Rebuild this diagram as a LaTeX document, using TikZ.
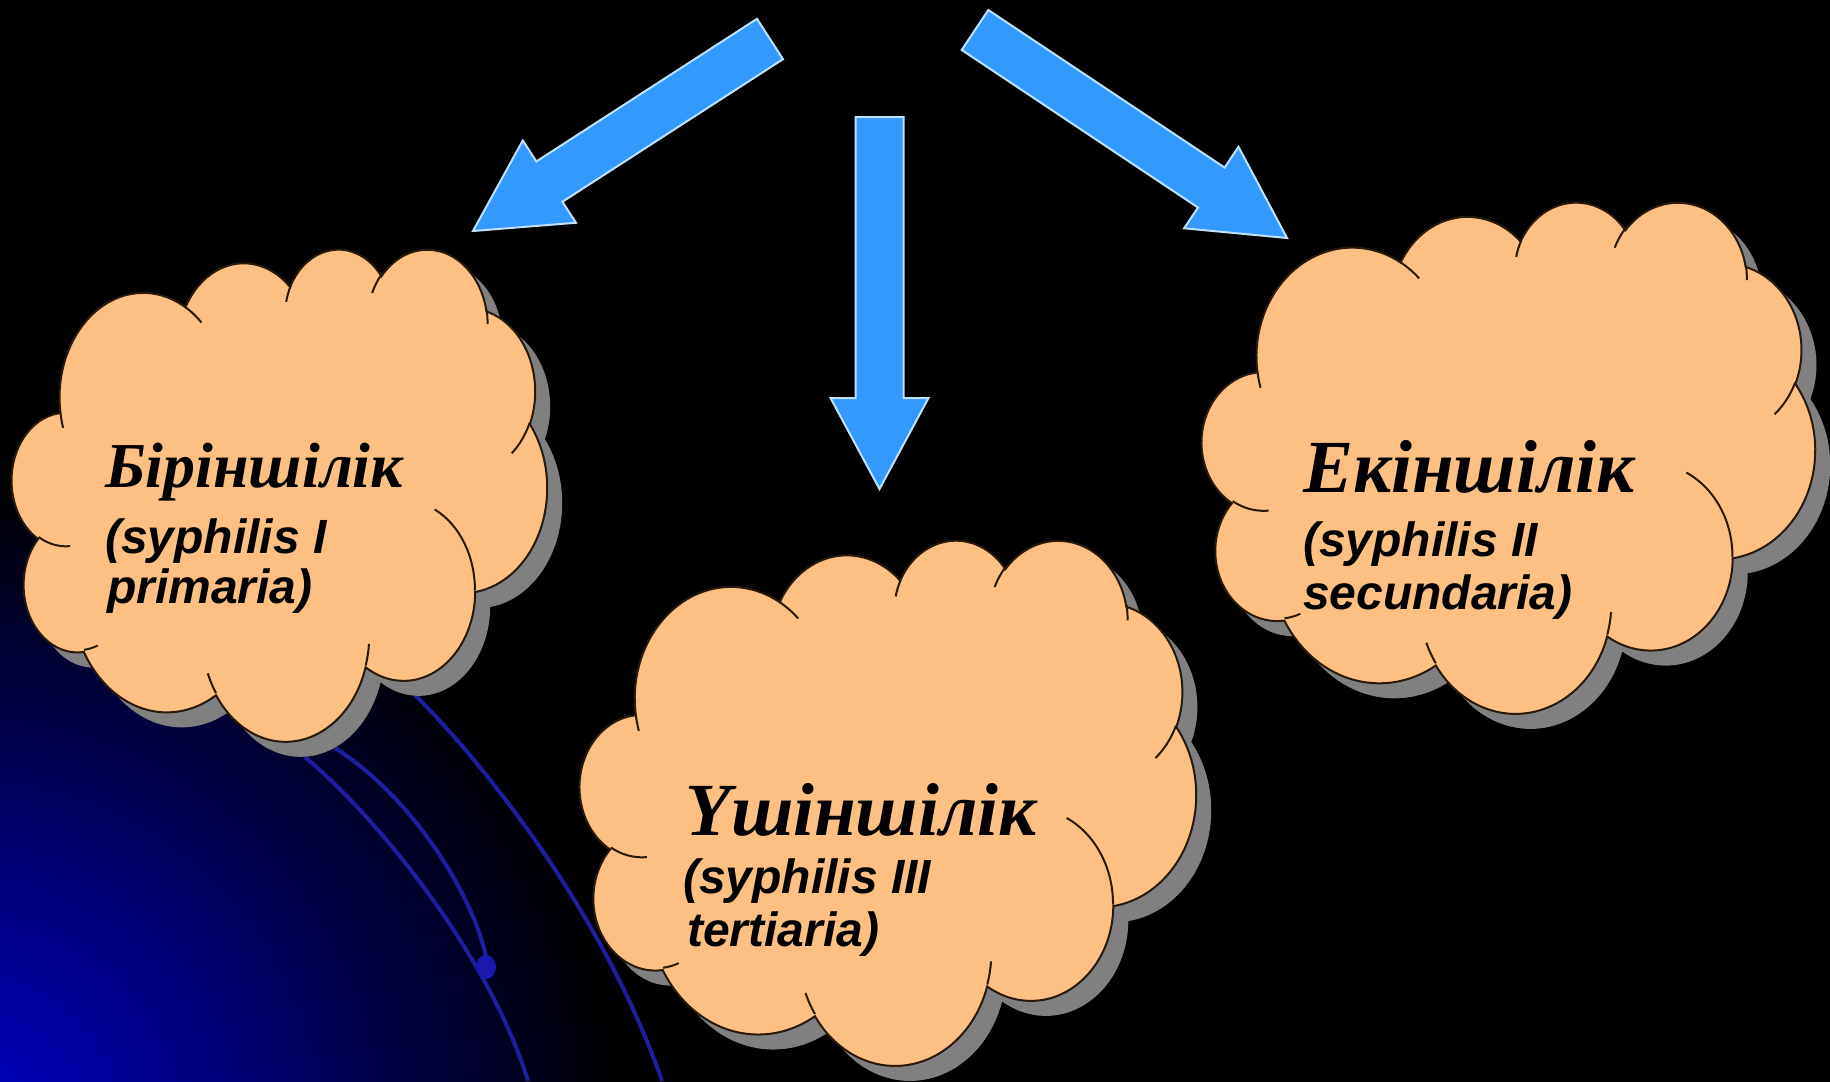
\documentclass[tikz,border=0pt]{standalone}
\usepackage{fontspec}
\setmainfont{Liberation Serif}
\newfontfamily\sansfam{Liberation Sans}
\definecolor{arrowblue}{RGB}{51,153,255}
\definecolor{arrowedge}{RGB}{190,225,255}
\definecolor{cloudfill}{RGB}{253,191,130}
\definecolor{cloudedge}{RGB}{40,25,10}
\definecolor{shadowgray}{RGB}{128,128,128}
\definecolor{orbit}{RGB}{30,30,160}
\definecolor{glow}{RGB}{0,0,205}

\newcommand\cloudoutline{(39.00,143.70)
 arc[start angle=-187.75,end angle=-59.65,x radius=67.53,y radius=91.90]
 arc[start angle=-152.02,end angle=-45.44,x radius=53.33,y radius=72.67]
 arc[start angle=-153.49,end angle=-37.33,x radius=43.65,y radius=59.45]
 arc[start angle=-139.69,end angle=-10.21,x radius=48.57,y radius=65.95]
 arc[start angle=-74.77,end angle=23.21,x radius=53.33,y radius=72.73]
 arc[start angle=-37.53,end angle=81.86,x radius=67.75,y radius=92.20]
 arc[start angle=0.46,end angle=121.97,x radius=57.85,y radius=78.67]
 arc[start angle=16.85,end angle=146.23,x radius=67.52,y radius=92.15]
 arc[start angle=58.98,end angle=150.20,x radius=77.20,y radius=105.43]
 arc[start angle=-276.69,end angle=-136.89,x radius=43.60,y radius=59.18]
 arc[start angle=-239.64,end angle=-95.89,x radius=43.45,y radius=59.45]
 -- cycle}
\newcommand\cloudinner{(46.93,261.77) arc[start angle=85.55,end angle=120.36,x radius=43.45,y radius=59.45]
 (69.28,348.99) arc[start angle=68.23,end angle=83.31,x radius=43.60,y radius=59.18]
 (164.78,390.90) arc[start angle=146.23,end angle=158.48,x radius=67.52,y radius=92.15]
 (288.27,347.51) arc[start angle=4.74,end angle=16.85,x radius=67.52,y radius=92.15]
 (341.29,229.54) arc[start angle=-64.03,end angle=0.46,x radius=57.85,y radius=78.67]
 (417.98,153.54) arc[start angle=23.21,end angle=49.64,x radius=53.33,y radius=72.73]
 (383.24,54.26) arc[start angle=-10.21,end angle=0.82,x radius=48.57,y radius=65.95]
 (290.78,39.52) arc[start angle=-156.29,end angle=-139.69,x radius=48.57,y radius=65.95]
 (221.41,47.20) arc[start angle=-167.73,end angle=-153.49,x radius=43.65,y radius=59.45]
 (140.00,51.92) arc[start angle=-59.65,end angle=-45.74,x radius=67.53,y radius=91.90]
 (41.27,157.89) arc[start angle=163.20,end angle=172.25,x radius=67.53,y radius=91.90]}

\tikzset{
 arrowsty/.style={fill=arrowblue, draw=arrowedge, line width=2pt, line join=miter},
 cloudsty/.style={fill=cloudfill, draw=cloudedge, line width=2pt},
 cloudline/.style={draw=cloudedge, line width=2pt},
 shadowsty/.style={fill=shadowgray},
 orbitsty/.style={draw=orbit, line width=4pt},
 bigtitle/.style={inner sep=0pt, anchor=base west, text=black, font=\bfseries\itshape\fontsize{75}{82}\selectfont},
 smalltitle/.style={inner sep=0pt, anchor=base west, text=black, font=\bfseries\itshape\fontsize{64}{70}\selectfont},
 substy/.style={inner sep=0pt, anchor=base west, text=black, font=\sansfam\bfseries\itshape\fontsize{48}{52}\selectfont},
}

\newcommand\drawcloud[4]{%
  \begin{scope}[shift={(#1+15,#2+15)},xscale=#3/432,yscale=#4/432]
    \path[shadowsty] \cloudoutline;
  \end{scope}
  \begin{scope}[shift={(#1,#2)},xscale=#3/432,yscale=#4/432]
    \path[cloudsty] \cloudoutline;
    \path[cloudline] \cloudinner;
  \end{scope}}

\newcommand\blockarrow[4]{%
  \begin{scope}[shift={(#1,#2)},rotate=#3]
    \path[arrowsty] (0,-24) -- ({#4-91},-24) -- ({#4-91},-49) -- (#4,0)
      -- ({#4-91},49) -- ({#4-91},24) -- (0,24) -- cycle;
  \end{scope}}

\begin{document}
\begin{tikzpicture}[x=1pt,y=1pt,yscale=-1]
\useasboundingbox (0,0) rectangle (1830,1081);
\fill[black] (-6,-6) rectangle (1836,1087);
\begin{scope}
  \clip (-6,-6) rectangle (1836,1087);
  \shade[inner color=glow, outer color=black] (-40,1140) circle (660);
\end{scope}

% orbit lines
\path[orbitsty] (305,757) .. controls (389,828) and (493,966) .. (528,1081);
\path[orbitsty] (335,748) .. controls (410,795) and (475,895) .. (487,962);
\path[orbitsty] (415,695) .. controls (500,780) and (610,930) .. (662,1081);
\fill[orbit!85!blue] (486,967) ellipse (10 and 12);

% arrows
\blockarrow{770}{39}{147.12}{353.7}
\blockarrow{879.5}{117}{90}{372}
\blockarrow{975}{30}{33.69}{375}

% clouds
\drawcloud{12}{248}{535}{492}
\drawcloud{580}{539}{616}{525}
\drawcloud{1202}{201}{613}{511}

% texts
\node[smalltitle] (t1) at (105,487) {Біріншілік};
\node[substy] (s1a) at (105,553) {(syphilis I};
\node[substy] (s1b) at (107,603) {primaria)};

\node[bigtitle] (t2) at (685,835) {\iffontchar\font"04AE Ү\else Y\fi шіншілік};
\node[substy] (s2a) at (683,893) {(syphilis III};
\node[substy] (s2b) at (687,946) {tertiaria)};

\node[bigtitle] (t3) at (1303,492) {Екіншілік};
\node[substy] (s3a) at (1303,556) {(syphilis II};
\node[substy] (s3b) at (1303,609) {secundaria)};
\end{tikzpicture}
\end{document}
